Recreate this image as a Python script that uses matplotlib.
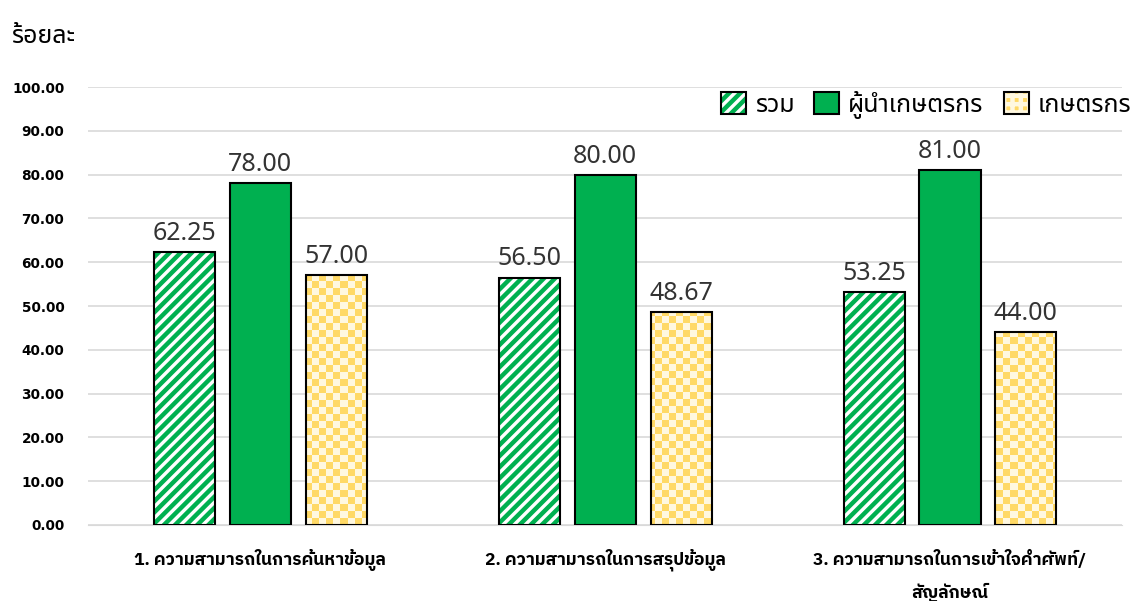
import matplotlib
matplotlib.use("Agg")
import matplotlib.pyplot as plt
from matplotlib.patches import Patch
from matplotlib.legend_handler import HandlerTuple
import numpy as np

plt.rcParams["font.family"] = ["Noto Sans Thai", "DejaVu Sans"]
plt.rcParams["hatch.linewidth"] = 3.2
BOLD_THAI = ["IBM Plex Sans Thai", "Noto Sans Thai", "DejaVu Sans"]

categories = ["1. ความสามารถในการค้นหาข้อมูล",
              "2. ความสามารถในการสรุปข้อมูล",
              "3. ความสามารถในการเข้าใจคำศัพท์/\nสัญลักษณ์"]
total = [62.25, 56.50, 53.25]
leaders = [78.00, 80.00, 81.00]
farmers = [57.00, 48.67, 44.00]
series_names = ["รวม", "ผู้นำเกษตรกร", "เกษตรกร"]
yticks = np.arange(0, 101, 10)

GREEN = "#00B050"
YELLOW = "#FFD966"
PALE = "#FFF8E0"

fig = plt.figure(figsize=(11.38, 6.01), dpi=100)
ax = fig.add_axes([0.0773, 0.1265, 0.909, 0.7285])

x = np.arange(len(categories))
w = 0.177
step = 0.22

# checker texture used to fill the farmer bars
cells_x, cells_y = 148, 63
yy, xx = np.mgrid[0:cells_y, 0:cells_x]
checker = np.where((xx + yy) % 2 == 0, 1.0, 0.0)
cmap = matplotlib.colors.ListedColormap([PALE, YELLOW])

# total: green stripes, black outline drawn on top
ax.bar(x - step, total, w, color="white", edgecolor=GREEN, hatch="///", linewidth=0, zorder=2)
ax.bar(x - step, total, w, color="none", edgecolor="black", linewidth=1.5, zorder=3)
ax.bar(x, leaders, w, color=GREEN, edgecolor="black", linewidth=1.5, zorder=3)
fbars = ax.bar(x + step, farmers, w, color=YELLOW, linewidth=0, zorder=2)
for bar in fbars:
    im = ax.imshow(checker, cmap=cmap, extent=(-0.5, 2.5, 0, 100), origin="lower",
                   aspect="auto", interpolation="nearest", zorder=2.5)
    im.set_clip_path(bar)
ax.bar(x + step, farmers, w, color="none", edgecolor="black", linewidth=1.5, zorder=3)

for xs, vals in ((x - step, total), (x, leaders), (x + step, farmers)):
    for xi, v in zip(xs, vals):
        ax.text(xi, v + 1.4, f"{v:.2f}", ha="center", va="bottom", fontsize=18, color="#333333")

ax.set_xlim(-0.5, 2.5)
ax.set_ylim(0, 100)
ax.set_yticks(yticks)
ax.set_yticklabels([f"{t:.2f}" for t in yticks], fontsize=9.8, fontweight="bold",
                   family="DejaVu Sans")
ax.set_xticks(x)
ax.set_xticklabels(categories, fontsize=12.5, fontweight="bold", linespacing=2.0,
                   family=BOLD_THAI)
ax.tick_params(axis="y", length=0, pad=17)
ax.tick_params(axis="x", length=0, pad=17)
ax.yaxis.grid(True, color="#D9D9D9", linewidth=1.2, zorder=0)
ax.set_axisbelow(True)
for s in ("top", "right", "left"):
    ax.spines[s].set_visible(False)
ax.spines["bottom"].set_color("#D9D9D9")

fig.text(0.010, 0.940, "ร้อยละ", fontsize=18, ha="left", va="center")

outline = Patch(facecolor="none", edgecolor="black", linewidth=1.5)
handles = [(Patch(facecolor="white", edgecolor=GREEN, hatch="///", linewidth=0), outline),
           Patch(facecolor=GREEN, edgecolor="black", linewidth=1.5),
           (Patch(facecolor=YELLOW, edgecolor=PALE, hatch="++", linewidth=0), outline)]
ax.legend(handles, series_names, loc="center right", bbox_to_anchor=(1.03, 0.96), ncol=3,
          frameon=False, fontsize=18, handlelength=1.0, handleheight=1.0,
          handletextpad=0.35, columnspacing=0.8,
          handler_map={tuple: HandlerTuple(ndivide=1, pad=0)})

fig.savefig("out.png", dpi=100)
